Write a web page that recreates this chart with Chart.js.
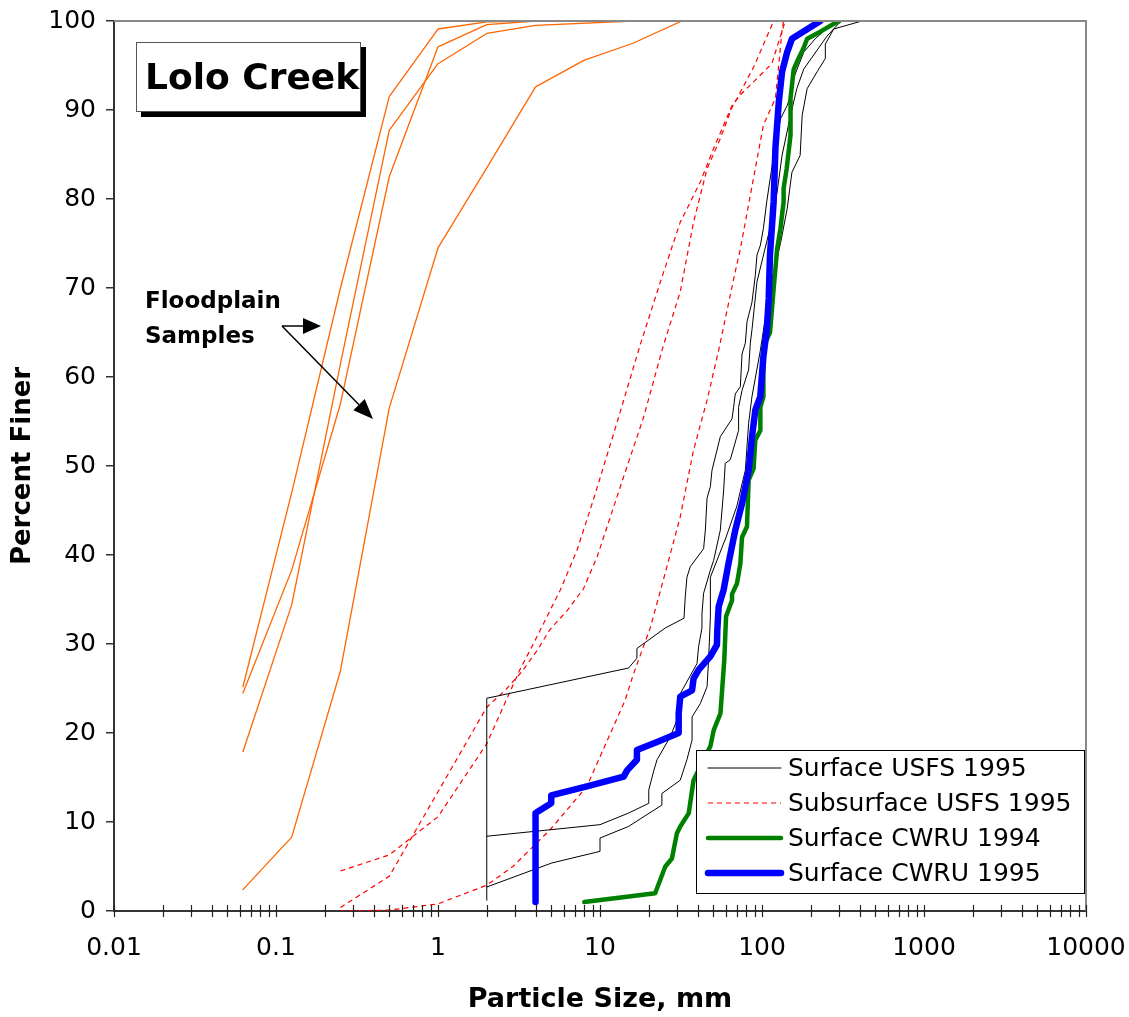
<!DOCTYPE html>
<html>
<head>
<meta charset="utf-8">
<script src="https://cdn.jsdelivr.net/npm/chart.js@4.4.1/dist/chart.umd.min.js"></script>
<style>
html,body{margin:0;padding:0;background:#fff;}
#wrap{width:1129px;height:1017px;position:relative;}
</style>
</head>
<body>
<div id="wrap"><canvas id="c" width="1129" height="1017"></canvas></div>
<script>
// ---------- DATA (particle size in mm, percent finer) ----------
const xTickValues = [0.01, 0.1, 1, 10, 100, 1000, 10000];
const xTickLabels = ['0.01', '0.1', '1', '10', '100', '1000', '10000'];
const yTickValues = [0, 10, 20, 30, 40, 50, 60, 70, 80, 90, 100];

// Floodplain samples (orange)
const fp1Size = [0.0625, 0.125, 0.25, 0.5, 1, 2, 4];
const fp1Pct  = [25.2, 47, 70, 91.5, 99.1, 99.9, 100];
const fp2Size = [0.0625, 0.125, 0.25, 0.5, 1, 2, 4];
const fp2Pct  = [24.5, 38.3, 57, 82.5, 97.1, 99.6, 100];
const fp3Size = [0.0625, 0.125, 0.25, 0.5, 1, 2, 4, 16];
const fp3Pct  = [17.9, 34.4, 61.5, 87.7, 95.2, 98.6, 99.5, 100];
const fp4Size = [0.0625, 0.125, 0.25, 0.5, 1, 2, 4, 8, 16, 32];
const fp4Pct  = [2.4, 8.3, 27, 56.5, 74.5, 83.5, 92.6, 95.6, 97.5, 100];

// Subsurface USFS 1995 (red dashed)
const sub1Size = [0.25, 0.5, 1, 2, 2.7, 3.2, 3.9, 5.7, 7.2, 9.1, 12.7, 17.7, 23.6, 31.3, 41.6, 50.3, 59.3, 65.3, 73.5, 115, 139];
const sub1Pct  = [4.5, 6.3, 10.6, 18.8, 24.1, 27.1, 30.1, 36.1, 40.5, 46.2, 54.8, 63.6, 70.7, 77.4, 81.9, 85.7, 88.7, 90.5, 91.7, 95.2, 100];
const sub2Size = [0.25, 0.5, 1, 2, 2.6, 3.3, 4.1, 4.9, 6.3, 7.9, 9.6, 14, 18.6, 24.4, 31.3, 37.8, 45.8, 55.3, 65.3, 70.1, 88.7, 118];
const sub2Pct  = [0.4, 3.9, 13.4, 22.9, 24.8, 26.9, 29.3, 31.6, 33.8, 36.2, 39.8, 48.8, 55.5, 63.3, 69.6, 77.4, 83.4, 86.8, 90.3, 91.3, 94.8, 100];
const sub3Size = [0.25, 0.5, 1, 2, 2.9, 4.9, 8.3, 14.3, 16, 20.5, 25.9, 31.3, 37.8, 45.8, 54, 66.8, 73.5, 102, 121, 128, 133, 136];
const sub3Pct  = [0, 0.1, 0.8, 2.9, 5, 9.1, 14, 23.7, 26.5, 31.9, 38.7, 44.3, 51.8, 57.4, 63, 71, 74.4, 88.3, 91.3, 95.8, 99, 100];

// Surface USFS 1995 (black)
const surf1Size = [2, 2, 15, 16.9, 16.9, 25.3, 33, 33.6, 34.4, 36.1, 43.6, 44.7, 45.8, 48, 49.1, 55.3, 65.3, 66.8, 68.4, 73.5, 75.3, 78.9, 80.8, 86.7, 90.9, 93.1, 97.7, 102, 107, 118, 130, 143, 150, 153, 181, 213, 264, 290];
const surf1Pct  = [1.2, 23.9, 27.3, 28.4, 29.5, 31.8, 32.9, 35.3, 37.5, 38.7, 40.7, 42.8, 46.4, 47.7, 49.5, 53.3, 55.3, 56.6, 58.1, 58.9, 62.6, 63.8, 66.2, 68.4, 71.4, 73.7, 74.8, 76.7, 79.7, 84.9, 89, 90.5, 91.6, 93.1, 96.5, 98, 99.5, 100];
const surf2Size = [2, 10, 15, 20, 20, 21.5, 22.5, 27.2, 29.9, 30.6, 39.7, 40.6, 42.6, 42.6, 43.6, 48, 50.3, 55.3, 58, 59.3, 63.7, 71.7, 71.7, 75.3, 82.7, 84.7, 86.7, 93.1, 112, 124, 133, 150, 164, 181, 252, 297, 312];
const surf2Pct  = [8.4, 9.7, 11, 12.1, 13.6, 15.8, 17, 19.6, 21.5, 24.1, 27.8, 29.7, 31.8, 33.4, 35.7, 38.3, 39.4, 42.8, 47.3, 50.3, 50.7, 54, 56.6, 58.5, 60.8, 63.8, 65.3, 70.7, 76.7, 80.8, 84.9, 89.4, 92.4, 94.6, 98.3, 99.7, 100];
const surf3Size = [2, 5.05, 10, 10, 15, 24.1, 24.1, 31.3, 34.4, 37, 37, 41.6, 45.8, 46.8, 48, 48, 60, 70, 75.3, 78.9, 82.7, 86.7, 97.7, 112, 130, 143, 153, 172, 177, 190, 219, 246, 246, 277, 414];
const surf3Pct  = [2.7, 5.4, 6.7, 8.2, 9.5, 11.9, 13.2, 14.7, 17, 19.2, 21.8, 23.3, 25.2, 28.2, 33, 37.5, 42, 45.5, 48, 49.5, 54.8, 57.8, 63, 70, 75, 78.9, 83, 84.9, 89.4, 92.4, 94.3, 95.8, 97.4, 99.1, 100];

// Surface CWRU 1994 (green)
const cwru94Size = [8, 21.9, 25.3, 27.8, 29.8, 31.3, 35.3, 37.8, 48, 50.3, 55.4, 58.5, 60, 65.3, 65.3, 70.1, 73.5, 75.3, 80.8, 82.7, 88.7, 90.9, 97.7, 97.7, 102, 102, 112, 118, 124, 130, 136, 136, 142, 150, 150, 157, 168, 180, 190, 229, 297];
const cwru94Pct  = [1, 2, 5, 5.9, 8.7, 9.5, 11, 14.7, 18.5, 20.3, 22.2, 28.2, 33.1, 34.9, 35.6, 36.8, 39, 42, 43.2, 48.4, 49.7, 52.9, 54, 56.6, 57.8, 63.4, 65, 69.9, 74.4, 76.7, 79.7, 81.2, 83.4, 87.2, 91.3, 94.6, 95.8, 96.9, 98, 98.8, 100];

// Surface CWRU 1995 (blue)
const cwru95Size = [4, 4, 5, 5, 8.3, 14, 14.7, 16.9, 16.9, 22.5, 30.6, 30.6, 31.3, 37, 37.8, 40.6, 48, 52.7, 53, 54, 58, 62.2, 68.4, 75.3, 82.7, 86.8, 91, 97.6, 102, 107, 110, 112, 118, 121, 127, 133, 143, 153, 229];
const cwru95Pct  = [1, 11, 12.1, 13, 14, 15.1, 15.8, 17, 18.1, 19, 20, 22.2, 24.1, 24.8, 26.1, 27.1, 28.6, 29.9, 31.6, 34.2, 36.1, 39.1, 42.8, 45.8, 49.5, 53.3, 56.3, 57.8, 62.3, 65.3, 68.8, 73.7, 79.7, 85.7, 90.9, 94.3, 96.5, 98, 100];

const legendLabels = ['Surface USFS 1995', 'Subsurface USFS 1995', 'Surface CWRU 1994', 'Surface CWRU 1995'];
const chartTitle = 'Lolo Creek';
const noteLines = ['Floodplain', 'Samples'];
const xTitle = 'Particle Size, mm';
const yTitle = 'Percent Finer';

// ---------- STYLES ----------
const FONT = '"DejaVu Sans", "Liberation Sans", Arial, sans-serif';
const sty = {
  flood:  { borderColor: '#FF6600', borderWidth: 1.3, borderDash: [] },
  sub:    { borderColor: '#FF0000', borderWidth: 1.2, borderDash: [5, 4] },
  surf:   { borderColor: '#000000', borderWidth: 1, borderDash: [] },
  cwru94: { borderColor: '#008000', borderWidth: 4.5, borderDash: [] },
  cwru95: { borderColor: '#0000FF', borderWidth: 6.5, borderDash: [] }
};
function pts(s, p) { return s.map((x, i) => ({ x: x, y: p[i] })); }
function ds(label, s, p, st) {
  return Object.assign({
    label: label, data: pts(s, p), pointRadius: 0, pointHoverRadius: 0,
    fill: false, tension: 0, borderCapStyle: 'round', borderJoinStyle: 'round'
  }, st);
}

// first dataset is drawn on top in Chart.js
const datasets = [
  ds(legendLabels[3], cwru95Size, cwru95Pct, sty.cwru95),
  ds(legendLabels[2], cwru94Size, cwru94Pct, sty.cwru94),
  ds(legendLabels[0], surf1Size, surf1Pct, sty.surf),
  ds(legendLabels[0], surf2Size, surf2Pct, sty.surf),
  ds(legendLabels[0], surf3Size, surf3Pct, sty.surf),
  Object.assign(ds(legendLabels[1], sub1Size, sub1Pct, sty.sub), { borderCapStyle: 'butt' }),
  Object.assign(ds(legendLabels[1], sub2Size, sub2Pct, sty.sub), { borderCapStyle: 'butt' }),
  Object.assign(ds(legendLabels[1], sub3Size, sub3Pct, sty.sub), { borderCapStyle: 'butt' }),
  ds('Floodplain 1', fp1Size, fp1Pct, sty.flood),
  ds('Floodplain 2', fp2Size, fp2Pct, sty.flood),
  ds('Floodplain 3', fp3Size, fp3Pct, sty.flood),
  ds('Floodplain 4', fp4Size, fp4Pct, sty.flood)
];
const legendStyles = [sty.surf, sty.sub, sty.cwru94, sty.cwru95];

function arrow(ctx, x0, y0, x1, y1, headLen, headHalf) {
  const ang = Math.atan2(y1 - y0, x1 - x0);
  const bx = x1 - headLen * Math.cos(ang), by = y1 - headLen * Math.sin(ang);
  ctx.beginPath(); ctx.moveTo(x0, y0); ctx.lineTo(bx, by); ctx.stroke();
  ctx.beginPath();
  ctx.moveTo(x1, y1);
  ctx.lineTo(bx + headHalf * Math.sin(ang), by - headHalf * Math.cos(ang));
  ctx.lineTo(bx - headHalf * Math.sin(ang), by + headHalf * Math.cos(ang));
  ctx.closePath(); ctx.fill();
}

const decor = {
  id: 'decor',
  beforeDraw(chart) {
    const ctx = chart.ctx;
    ctx.save(); ctx.fillStyle = '#fff'; ctx.fillRect(0, 0, chart.width, chart.height); ctx.restore();
  },
  afterDatasetsDraw(chart) {
    const { ctx, chartArea: a, scales } = chart;
    const xs = scales.x, ys = scales.y;
    ctx.save();
    // plot frame (top / right)
    ctx.strokeStyle = '#888888'; ctx.lineWidth = 2;
    ctx.beginPath(); ctx.moveTo(a.left, a.top); ctx.lineTo(a.right, a.top); ctx.lineTo(a.right, a.bottom); ctx.stroke();
    // x tick marks crossing the axis (major + minor)
    ctx.strokeStyle = '#222'; ctx.lineWidth = 1.2;
    for (let e = -2; e <= 4; e++) {
      for (let m = 1; m <= 9; m++) {
        if (e === 4 && m > 1) break;
        const v = m * Math.pow(10, e);
        const px = Math.round(xs.getPixelForValue(v)) + 0.5;
        ctx.beginPath(); ctx.moveTo(px, a.bottom - 6); ctx.lineTo(px, a.bottom + 6); ctx.stroke();
      }
    }
    // title box with shadow
    ctx.fillStyle = '#000'; ctx.fillRect(141, 47, 225, 70);
    ctx.fillStyle = '#fff'; ctx.fillRect(136, 42, 225, 70);
    ctx.strokeStyle = '#555'; ctx.lineWidth = 1; ctx.strokeRect(136.5, 42.5, 224, 69);
    ctx.fillStyle = '#000'; ctx.font = 'bold 36px ' + FONT; ctx.textBaseline = 'alphabetic'; ctx.textAlign = 'left';
    ctx.fillText(chartTitle, 145, 89);
    // floodplain note
    ctx.font = 'bold 23px ' + FONT;
    ctx.fillText(noteLines[0], 145, 308);
    ctx.fillText(noteLines[1], 145, 343);
    ctx.strokeStyle = '#000'; ctx.fillStyle = '#000'; ctx.lineWidth = 1.5;
    arrow(ctx, 282, 326, 321, 326, 18, 8);
    arrow(ctx, 282, 326, 373, 419, 20, 8);
    // legend
    ctx.fillStyle = '#fff'; ctx.fillRect(696, 750, 388, 143);
    ctx.strokeStyle = '#000'; ctx.lineWidth = 1; ctx.strokeRect(696.5, 750.5, 388, 143);
    ctx.font = '25px ' + FONT; ctx.textBaseline = 'middle';
    legendLabels.forEach((lab, i) => {
      const y = 768 + i * 35;
      const st = legendStyles[i];
      ctx.save();
      ctx.strokeStyle = st.borderColor; ctx.lineWidth = st.borderWidth;
      ctx.setLineDash(st.borderDash); ctx.lineCap = st.borderDash.length ? 'butt' : 'round';
      ctx.beginPath(); ctx.moveTo(708, y); ctx.lineTo(781, y); ctx.stroke();
      ctx.restore();
      ctx.fillStyle = '#000';
      ctx.fillText(lab, 788, y + 1);
    });
    ctx.restore();
  }
};

new Chart(document.getElementById('c'), {
  type: 'line',
  data: { datasets: datasets },
  options: {
    responsive: false,
    animation: false,
    devicePixelRatio: 1,
    layout: { padding: { top: 21, right: 43, left: 0, bottom: 0 } },
    plugins: { legend: { display: false }, tooltip: { enabled: false } },
    elements: { line: { tension: 0 } },
    scales: {
      x: {
        type: 'logarithmic', min: 0.01, max: 10000,
        afterBuildTicks: s => { s.ticks = xTickValues.map(v => ({ value: v })); },
        afterFit: s => { s.height = 106; s.paddingLeft = 0; s.paddingRight = 0; },
        grid: { display: false, drawTicks: false },
        border: { display: true, color: '#333', width: 2 },
        ticks: {
          autoSkip: false, maxRotation: 0, minRotation: 0, padding: 22, color: '#000',
          font: { family: FONT, size: 25 },
          callback: (v, i) => xTickLabels[i]
        },
        title: { display: true, text: xTitle, color: '#000', font: { family: FONT, size: 27, weight: 'bold' }, padding: { top: 0, bottom: 1 } }
      },
      y: {
        type: 'linear', min: 0, max: 100,
        afterBuildTicks: s => { s.ticks = yTickValues.map(v => ({ value: v })); },
        afterFit: s => { s.width = 114; s.paddingTop = 0; s.paddingBottom = 0; },
        grid: { drawOnChartArea: false, drawTicks: true, tickLength: 8, color: '#333', lineWidth: 1.5 },
        border: { display: true, color: '#333', width: 2 },
        ticks: { padding: 10, color: '#000', font: { family: FONT, size: 25 } },
        title: { display: true, text: yTitle, color: '#000', font: { family: FONT, size: 26, weight: 'bold' }, padding: { top: 8, bottom: 0 } }
      }
    }
  },
  plugins: [decor]
});
</script>
</body>
</html>
